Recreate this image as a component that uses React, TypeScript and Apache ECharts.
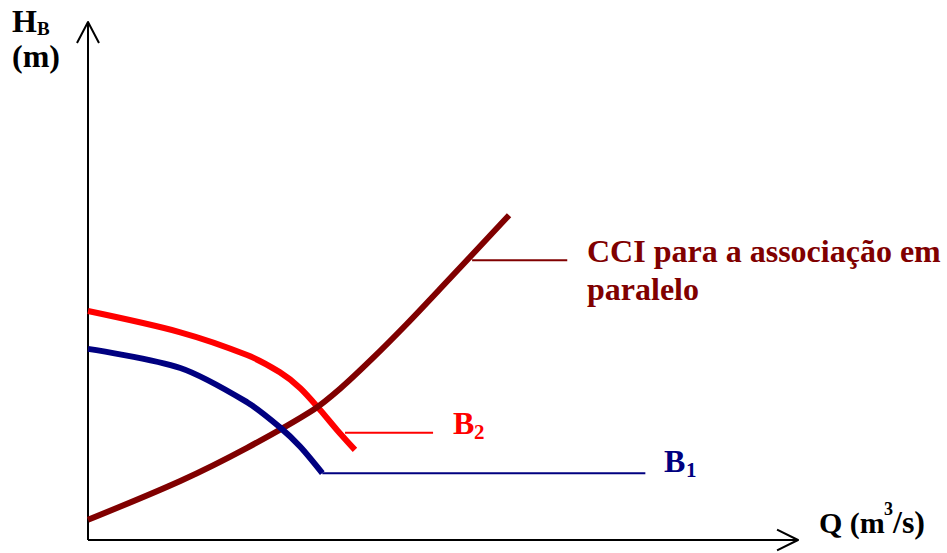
import React, { useEffect, useRef } from "react";
import * as echarts from "echarts";

// Pump curves and system curve (arbitrary units)
const Q_B1 = [0, 13.0, 22.4, 27.0, 29.9, 33.0];
const H_B1 = [36.9, 33.2, 26.6, 21.8, 18.0, 12.9];
const Q_B2 = [0, 13.0, 22.4, 27.0, 29.9, 32.7, 35.1, 37.6];
const H_B2 = [44.2, 40.1, 35.7, 32.4, 29.3, 25.1, 21.2, 17.4];
const Q_CCI = [0, 13.0, 22.4, 31.7, 35.5, 40.1, 44.9, 49.6, 59.3];
const H_CCI = [3.9, 11.4, 17.8, 25.1, 29.2, 35.1, 41.7, 48.5, 62.7];

// Label leader lines [Q, H]
const LEADER_B1 = [[33.0, 12.9], [78.5, 12.9]];
const LEADER_B2 = [[36.2, 20.7], [48.6, 20.7]];
const LEADER_CCI = [[54.1, 54.0], [67.5, 54.0]];

// Axis lines with open arrow heads
const AXIS_Y = [[0, 0], [0, 100]];
const ARROW_Y = [[-1.55, 95.95], [0, 100], [1.55, 95.95]];
const AXIS_X = [[0, 0], [100, 0]];
const ARROW_X = [[97.05, 2.0], [100, 0], [97.05, -2.0]];

const TXT_CCI_1 = "CCI para a associação em";
const TXT_CCI_2 = "paralelo";

const zip = (a: number[], b: number[]) => a.map((v, i) => [v, b[i]]);

const SERIF = '"Liberation Serif", "Times New Roman", serif';
const font = (size: number) => `bold ${size}px ${SERIF}`;
const mid = (baseline: number, size: number) => baseline - 0.3375 * size;

function txt(text: string, x: number, baseline: number, size: number, color: string) {
  return {
    type: "text",
    z: 100,
    style: {
      text,
      x,
      y: mid(baseline, size),
      font: font(size),
      fill: color,
      align: "left",
      verticalAlign: "middle",
    },
  };
}

const lineSeries = (name: string, data: number[][], color: string, width: number, smooth: number | boolean = false) => ({
  name,
  type: "line",
  data,
  showSymbol: false,
  symbol: "none",
  smooth,
  clip: false,
  lineStyle: { color, width, cap: "butt", join: "round" },
  z: 5,
});

export default function App() {
  const ref = useRef<HTMLDivElement>(null);
  useEffect(() => {
    if (!ref.current) return;
    const chart = echarts.init(ref.current, undefined, { renderer: "svg" });
    chart.setOption({
      animation: false,
      backgroundColor: "#ffffff",
      grid: { left: 17, right: 149, top: 22, bottom: 2.64, containLabel: false },
      xAxis: { type: "value", min: -10, max: 100, show: false },
      yAxis: { type: "value", min: -2, max: 100, show: false },
      series: [
        lineSeries("eixoY", AXIS_Y, "#000000", 2),
        lineSeries("setaY", ARROW_Y, "#000000", 2),
        lineSeries("eixoX", AXIS_X, "#000000", 2),
        lineSeries("setaX", ARROW_X, "#000000", 2),
        lineSeries("B2", zip(Q_B2, H_B2), "#ff0000", 6, 0.3),
        lineSeries("CCI", zip(Q_CCI, H_CCI), "#800000", 6, 0.3),
        lineSeries("B1", zip(Q_B1, H_B1), "#000080", 6, 0.3),
        lineSeries("legB2", LEADER_B2, "#ff0000", 2),
        lineSeries("legB1", LEADER_B1, "#000080", 2),
        lineSeries("legCCI", LEADER_CCI, "#800000", 2),
      ],
      graphic: [
        txt("H", 12, 32, 32, "#000000"),
        txt("B", 37, 35, 19, "#000000"),
        txt("(m)", 12, 66.5, 32, "#000000"),
        txt("Q (m", 819, 533, 30, "#000000"),
        txt("3", 884, 515, 18, "#000000"),
        txt("/s)", 893, 533, 32, "#000000"),
        txt(TXT_CCI_1, 587, 262, 32, "#800000"),
        txt(TXT_CCI_2, 587, 300, 32, "#800000"),
        txt("B", 453, 434, 32, "#ff0000"),
        txt("2", 474, 439, 21, "#ff0000"),
        txt("B", 664, 472, 32, "#000080"),
        txt("1", 686, 477, 21, "#000080"),
      ],
    });
    return () => chart.dispose();
  }, []);
  return (
    <div
      ref={ref}
      style={{ position: "absolute", left: 0, top: 0, width: 947, height: 553, background: "#fff" }}
    />
  );
}
